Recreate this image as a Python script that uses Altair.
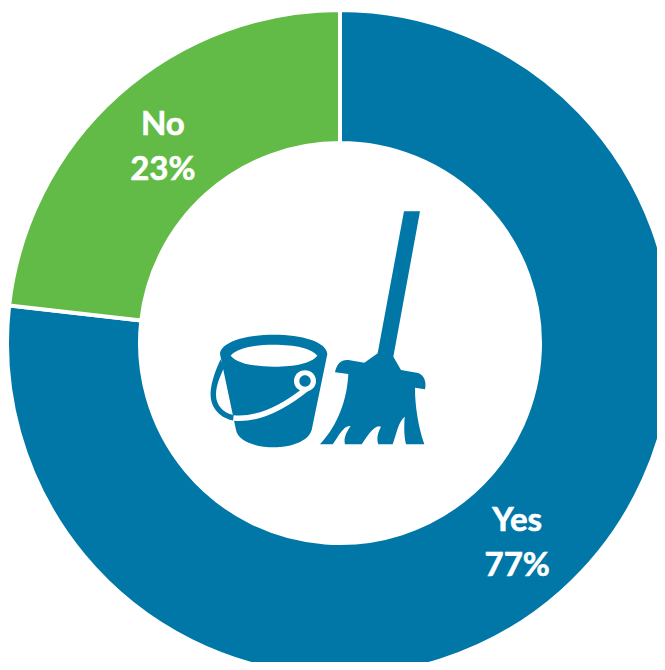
import altair as alt
import pandas as pd

categories = ["Yes", "No"]
shares = [76.8, 23.2]
colors = ["#0077A7", "#62BB46"]
labels = ["Yes\n77%", "No\n23%"]
orders = [1, 2]

BLUE = colors[0]
CX, CY = 332, 335

df = pd.DataFrame({"category": categories, "share": shares, "label": labels, "order": orders})
one = pd.DataFrame({"k": [1]})

base = alt.Chart(df).encode(
    theta=alt.Theta("share:Q", stack=True, scale=alt.Scale(domain=[0, 100])),
    order=alt.Order("order:Q"),
    x=alt.value(CX),
    y=alt.value(CY),
)

arcs = base.mark_arc(outerRadius=333, innerRadius=200, stroke="white", strokeWidth=4).encode(
    color=alt.Color("category:N", scale=alt.Scale(domain=categories, range=colors), legend=None)
)

text = base.mark_text(
    radius=266, dy=-20, font="Lato", fontWeight="bold", fontSize=33, color="white",
    stroke="white", strokeWidth=0.6,
    lineBreak="\n", lineHeight=45, align="center", baseline="middle",
).encode(text="label:N")

# icon outlines, drawn at 1/3 scale from an anchor at the icon's upper-left corner
bucket = ("M60,462 C62,425 140,404 222,404 C305,404 380,425 382,462 L335,690 "
          "C325,725 270,742 222,742 C170,742 115,725 108,690 Z")
rim_hole = ("M92,467 C110,445 160,434 222,434 C285,434 335,445 352,467 "
            "C335,489 285,500 222,500 C160,500 110,489 92,467 Z")
handle_left = ("M62,478 C42,520 30,560 32,590 C35,630 70,662 112,662 L100,645 "
               "C70,640 48,615 48,585 C48,555 60,530 72,503 Z")
handle_white = "M100,654 C180,662 260,615 325,562"
ring = "M282,543 a33,32 0 1,0 66,0 a33,32 0 1,0 -66,0 Z"
ring_hole = "M298,543 a17,17 0 1,0 34,0 a17,17 0 1,0 -34,0 Z"
broom = ("M612,34 L660,34 L580,470 L603,510 L650,518 C672,522 680,545 675,568 L645,563 "
         "C645,620 655,680 673,733 L618,733 C612,710 612,680 614,650 C595,665 590,700 578,733 "
         "L535,733 C528,715 535,695 543,680 C525,670 500,710 485,733 L435,733 "
         "C430,715 440,695 452,678 C430,675 415,710 398,733 L360,733 "
         "C400,690 440,620 445,522 L405,517 C410,490 425,478 445,480 L493,488 L533,460 Z")

ICON_SIZE = 4 / 9
ICON_X, ICON_Y = 192, 192


def shape(path, fill):
    return alt.Chart(one).mark_point(
        shape=path, size=ICON_SIZE, filled=True, fill=fill, opacity=1, strokeWidth=0
    ).encode(x=alt.value(ICON_X), y=alt.value(ICON_Y))


handle_stroke = alt.Chart(one).mark_point(
    shape=handle_white, size=ICON_SIZE, filled=False, stroke="white", strokeWidth=5.5, opacity=1
).encode(x=alt.value(ICON_X), y=alt.value(ICON_Y))

chart = alt.layer(
    arcs, text,
    shape(bucket, BLUE), shape(rim_hole, "white"), shape(handle_left, BLUE),
    handle_stroke, shape(ring, "white"), shape(ring_hole, BLUE), shape(broom, BLUE),
).properties(
    width=649, height=654, padding=0, autosize=alt.AutoSizeParams(type="none"),
    background="white",
).configure_view(stroke=None)

chart.save("out.html", embed_options={"renderer": "svg", "actions": False})
